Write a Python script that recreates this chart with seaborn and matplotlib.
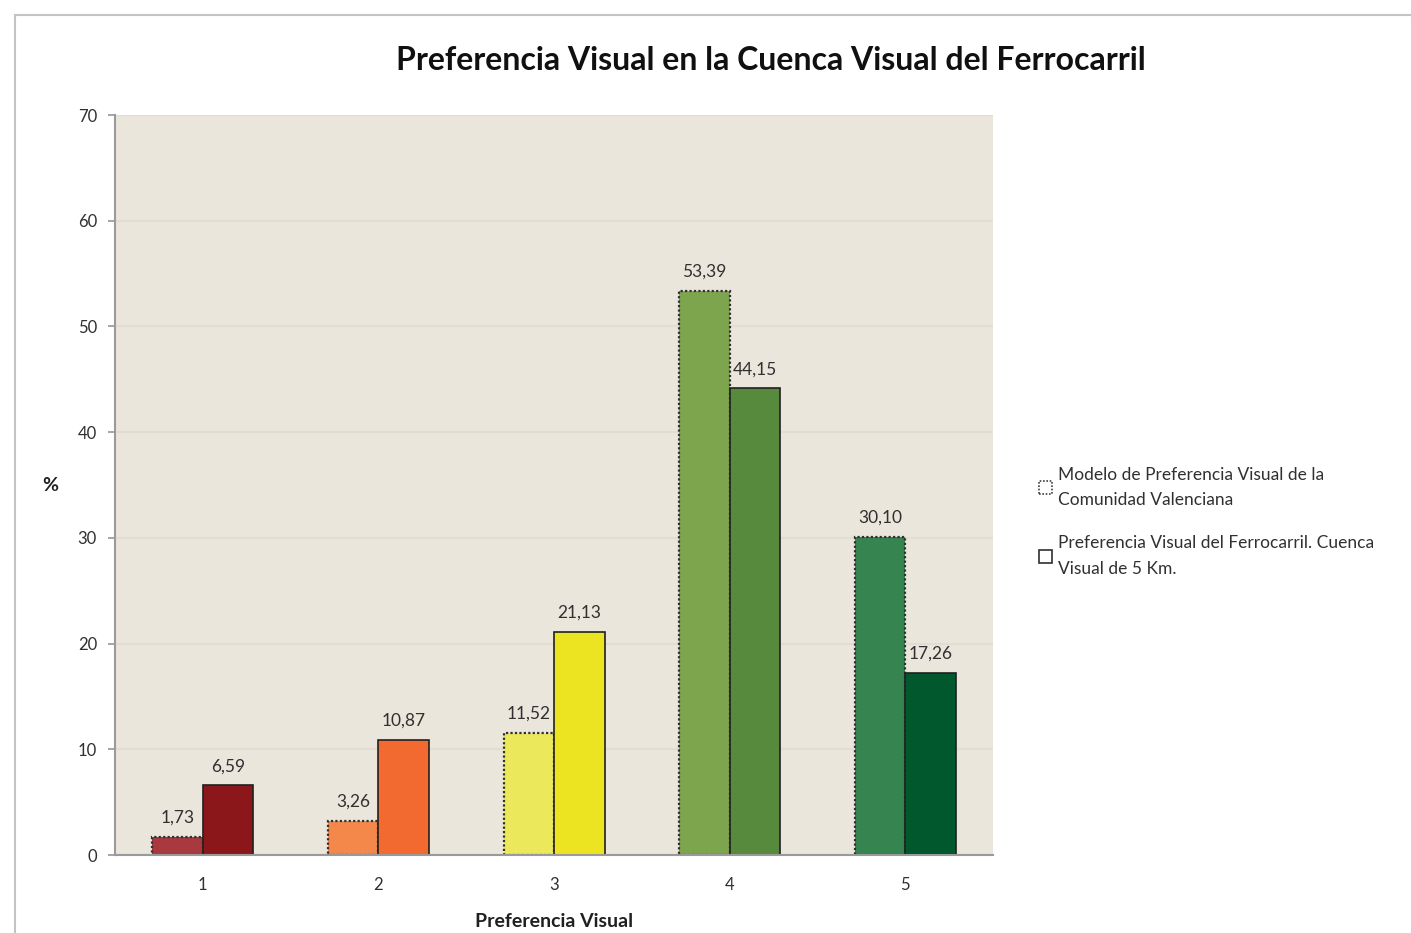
import matplotlib
matplotlib.use("Agg")
import matplotlib.pyplot as plt
from matplotlib.patches import Patch, Rectangle
import seaborn as sns
import pandas as pd

categories = ["1", "2", "3", "4", "5"]
modelo_cv = [1.73, 3.26, 11.52, 53.39, 30.10]
ferrocarril_5km = [6.59, 10.87, 21.13, 44.15, 17.26]
series_names = ["Modelo de Preferencia Visual de la\nComunidad Valenciana",
                "Preferencia Visual del Ferrocarril. Cuenca\nVisual de 5 Km."]
y_ticks = [0, 10, 20, 30, 40, 50, 60, 70]

colors_modelo = ["#a8393f", "#f4884a", "#ece85c", "#7ca54e", "#368450"]
colors_ferro = ["#8c171b", "#f26a30", "#ece420", "#578a3c", "#00582c"]

df = pd.DataFrame({
    "cat": categories * 2,
    "val": modelo_cv + ferrocarril_5km,
    "serie": [series_names[0]] * 5 + [series_names[1]] * 5,
})

sns.set_theme(style="white")
plt.rcParams["font.family"] = ["Lato", "DejaVu Sans"]

fig = plt.figure(figsize=(14.11, 9.33), dpi=100)
fig.patch.set_facecolor("white")
ax = fig.add_axes([0.0815, 0.0836, 0.6223, 0.7931])

sns.barplot(data=df, x="cat", y="val", hue="serie", order=categories,
            hue_order=series_names, width=0.575, ax=ax, legend=False,
            errorbar=None)

bars = ax.patches
for i, p in enumerate(bars[:5]):
    p.set_facecolor(colors_modelo[i])
    p.set_edgecolor("#303030")
    p.set_linestyle((0, (1, 1)))
    p.set_linewidth(1.6)
for i, p in enumerate(bars[5:10]):
    p.set_facecolor(colors_ferro[i])
    p.set_edgecolor("#202020")
    p.set_linewidth(1.2)

for container in ax.containers:
    ax.bar_label(container, labels=[f"{v:.2f}".replace(".", ",") for v in container.datavalues],
                 padding=8, fontsize=12.5, color="#303030")

ax.set_facecolor("#ebe6dc")
ax.set_ylim(0, 70)
ax.set_yticks(y_ticks)
ax.yaxis.grid(True, color="#e2ddd2", linewidth=1.5)
ax.set_axisbelow(True)
for side in ["top", "right"]:
    ax.spines[side].set_visible(False)
for side in ["left", "bottom"]:
    ax.spines[side].set_color("#9a9a9a")
    ax.spines[side].set_linewidth(1.5)
ax.tick_params(axis="y", left=True, length=5, color="#9a9a9a", labelsize=12,
               labelcolor="#303030", pad=8)
ax.tick_params(axis="x", bottom=False, labelsize=12, labelcolor="#303030", pad=10)
ax.set_xlabel("Preferencia Visual", fontsize=14, fontweight="bold", color="#202020",
              labelpad=14)
ax.set_ylabel("%", fontsize=14, fontweight="bold", color="#202020", rotation=0,
              va="center", ha="center")
ax.yaxis.set_label_coords(-0.074, 0.5)

fig.suptitle("Preferencia Visual en la Cuenca Visual del Ferrocarril",
             x=0.546, y=0.951, fontsize=23, fontweight="bold", color="#101010")

handles = [
    Patch(facecolor="white", edgecolor="#404040", linestyle=(0, (1, 1)), linewidth=1.2),
    Patch(facecolor="white", edgecolor="#303030", linewidth=1.2),
]
leg = fig.legend(handles, series_names, loc="center left", bbox_to_anchor=(0.725, 0.441),
                 frameon=False, fontsize=12.5, handlelength=0.8, handleheight=0.8,
                 handletextpad=0.3, labelspacing=1.6, labelcolor="#303030")
for t in leg.get_texts():
    t.set_linespacing(1.7)

fig.add_artist(Rectangle((15 / 1411, -0.05), 1.1, 1 - 15 / 933 + 0.05,
                         transform=fig.transFigure, fill=False,
                         edgecolor="#c4c4c4", linewidth=1.5))

fig.savefig("out.png", dpi=100)
